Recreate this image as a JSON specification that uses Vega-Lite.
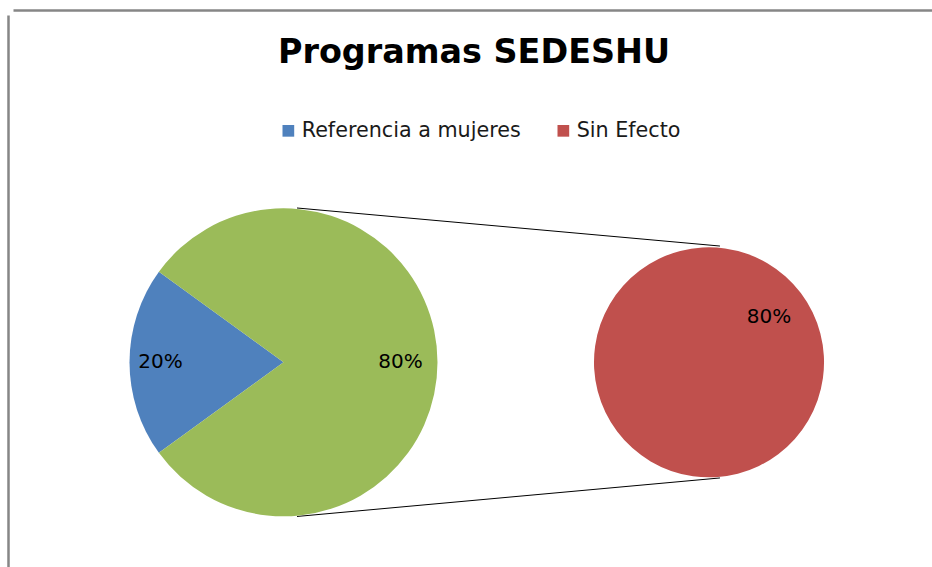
{
  "$schema": "https://vega.github.io/schema/vega-lite/v6.json",
  "width": 919,
  "height": 552,
  "autosize": {"type": "none"},
  "padding": {"left": 13, "top": 15, "right": 0, "bottom": 0},
  "background": "white",
  "config": {
    "view": {"stroke": "transparent", "strokeWidth": 0},
    "axis": {"labels": false, "ticks": false, "grid": false, "title": null, "domainColor": "#868686", "domainWidth": 2.5, "offset": 5}
  },
  "title": {
    "text": "Programas SEDESHU",
    "font": "DejaVu Sans",
    "fontSize": 33.4,
    "fontWeight": "bold",
    "color": "black",
    "anchor": "middle",
    "frame": "group",
    "offset": 0,
    "baseline": "alphabetic",
    "dy": 86,
    "dx": 1.5
  },
  "datasets": {
    "principal": [
      {"serie": "Referencia a mujeres", "valor": 20, "orden": 1, "etiqueta": "20%"},
      {"serie": "Otro", "valor": 80, "orden": 2, "etiqueta": "80%"}
    ],
    "secundario": [
      {"serie": "Sin Efecto", "valor": 80, "orden": 1, "etiqueta": "80%"}
    ]
  },
  "layer": [
    {
      "data": {"values": [{}]},
      "mark": {"type": "rule", "color": "black", "strokeWidth": 1},
      "encoding": {
        "x": {"datum": 0.0877, "type": "quantitative",
              "scale": {"domain": [-1.7565, 4.211], "nice": false, "zero": false},
              "axis": {"orient": "top"}},
        "y": {"datum": 1.002, "type": "quantitative",
              "scale": {"domain": [-1.3292, 2.2552], "nice": false, "zero": false},
              "axis": {"orient": "left"}},
        "x2": {"datum": 2.834},
        "y2": {"datum": 0.755}
      }
    },
    {
      "data": {"values": [{}]},
      "mark": {"type": "rule", "color": "black", "strokeWidth": 1},
      "encoding": {
        "x": {"datum": 0.0877, "type": "quantitative", "axis": {"orient": "top"}},
        "y": {"datum": -1.001, "type": "quantitative", "axis": {"orient": "left"}},
        "x2": {"datum": 2.834},
        "y2": {"datum": -0.751}
      }
    },
    {
      "data": {"name": "principal"},
      "mark": {"type": "arc", "radius": 154},
      "encoding": {
        "theta": {"field": "valor", "type": "quantitative", "stack": true, "scale": {"range": [4.0841, 10.3673]}},
        "order": {"field": "orden", "type": "quantitative"},
        "color": {
          "field": "serie", "type": "nominal",
          "scale": {"domain": ["Referencia a mujeres", "Sin Efecto", "Otro"], "range": ["#4F81BD", "#C0504D", "#9BBB59"]},
          "legend": {"orient": "none", "legendX": 265, "legendY": 105, "direction": "horizontal", "title": null,
                     "values": ["Referencia a mujeres", "Sin Efecto"], "symbolType": "square", "symbolSize": 137,
                     "symbolStrokeWidth": 0, "labelFont": "DejaVu Sans", "labelFontSize": 20.7, "labelColor": "#1a1a1a",
                     "labelLimit": 400, "labelOffset": 3, "columnPadding": 32, "padding": 0}
        },
        "x": {"datum": 0, "type": "quantitative", "axis": {"orient": "top"}},
        "y": {"datum": 0, "type": "quantitative", "axis": {"orient": "left"}}
      }
    },
    {
      "data": {"name": "principal"},
      "mark": {"type": "text", "font": "DejaVu Sans", "fontSize": 20, "color": "black", "align": "center", "baseline": "middle", "radius": 123},
      "encoding": {
        "theta": {"field": "valor", "type": "quantitative", "stack": true, "scale": {"range": [4.0841, 10.3673]}},
        "order": {"field": "orden", "type": "quantitative"},
        "text": {"condition": {"test": "datum.orden == 1", "field": "etiqueta"}, "value": ""},
        "x": {"datum": 0, "type": "quantitative", "axis": {"orient": "top"}},
        "y": {"datum": 0, "type": "quantitative", "axis": {"orient": "left"}}
      }
    },
    {
      "data": {"name": "principal"},
      "mark": {"type": "text", "font": "DejaVu Sans", "fontSize": 20, "color": "black", "align": "center", "baseline": "middle", "radius": 117},
      "encoding": {
        "theta": {"field": "valor", "type": "quantitative", "stack": true, "scale": {"range": [4.0841, 10.3673]}},
        "order": {"field": "orden", "type": "quantitative"},
        "text": {"condition": {"test": "datum.orden == 2", "field": "etiqueta"}, "value": ""},
        "x": {"datum": 0, "type": "quantitative", "axis": {"orient": "top"}},
        "y": {"datum": 0, "type": "quantitative", "axis": {"orient": "left"}}
      }
    },
    {
      "data": {"name": "secundario"},
      "mark": {"type": "arc", "radius": 115},
      "encoding": {
        "theta": {"field": "valor", "type": "quantitative", "stack": true, "scale": {"range": [4.0666, 10.3498]}},
        "order": {"field": "orden", "type": "quantitative"},
        "color": {
          "field": "serie", "type": "nominal",
          "legend": {"orient": "none", "legendX": 265, "legendY": 105, "direction": "horizontal", "title": null,
                     "values": ["Referencia a mujeres", "Sin Efecto"], "symbolType": "square", "symbolSize": 137,
                     "symbolStrokeWidth": 0, "labelFont": "DejaVu Sans", "labelFontSize": 20.7, "labelColor": "#1a1a1a",
                     "labelLimit": 400, "labelOffset": 3, "columnPadding": 32, "padding": 0}
        },
        "x": {"datum": 2.763, "type": "quantitative", "axis": {"orient": "top"}},
        "y": {"datum": 0, "type": "quantitative", "axis": {"orient": "left"}}
      }
    },
    {
      "data": {"name": "secundario"},
      "mark": {"type": "text", "font": "DejaVu Sans", "fontSize": 20, "color": "black", "align": "center", "baseline": "middle", "radius": 75},
      "encoding": {
        "theta": {"field": "valor", "type": "quantitative", "stack": true, "scale": {"range": [4.0666, 10.3498]}},
        "order": {"field": "orden", "type": "quantitative"},
        "text": {"field": "etiqueta", "type": "nominal"},
        "x": {"datum": 2.763, "type": "quantitative", "axis": {"orient": "top"}},
        "y": {"datum": 0, "type": "quantitative", "axis": {"orient": "left"}}
      }
    }
  ],
  "resolve": {"scale": {"theta": "independent"}}
}
